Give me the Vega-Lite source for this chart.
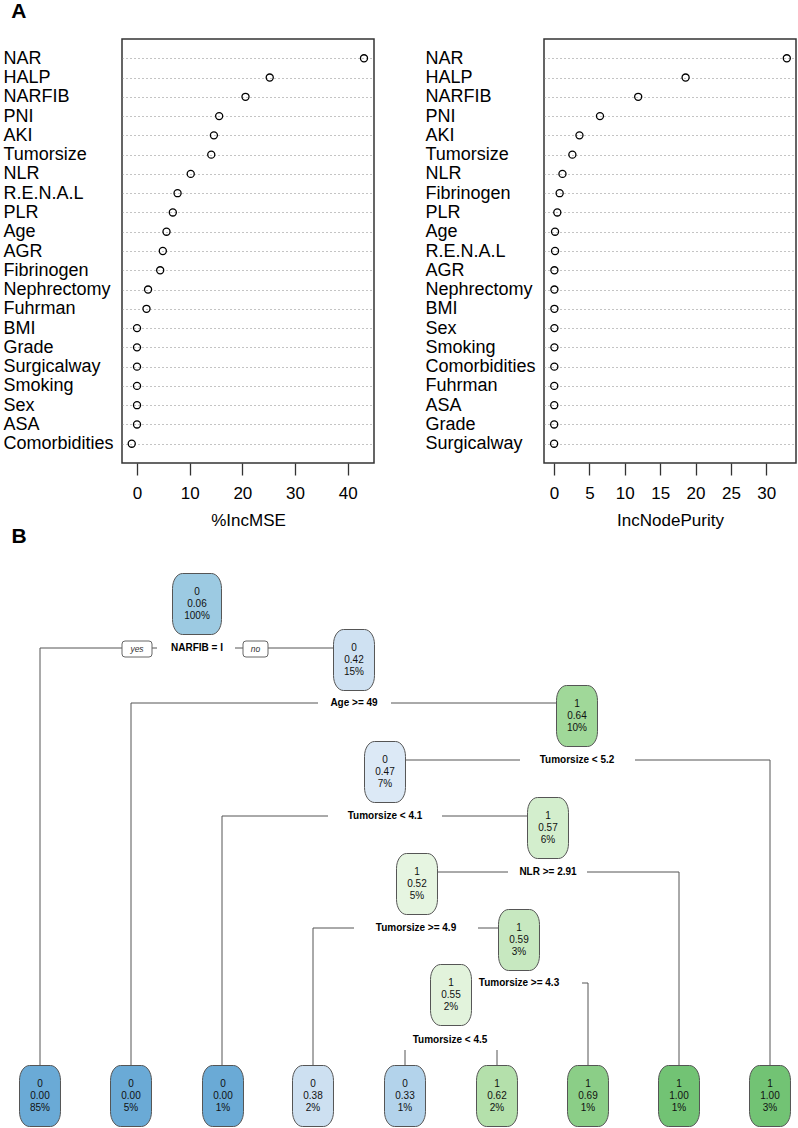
{
  "$schema": "https://vega.github.io/schema/vega-lite/v6.json",
  "padding": {"left": 2, "top": 1, "right": 0, "bottom": 0},
  "background": "white",
  "config": {"font": "Liberation Sans", "view": {"stroke": null}},
  "spacing": -3,
  "datasets": {
    "mse": [
      {"var": "NAR", "value": 43.1}, {"var": "HALP", "value": 25.2}, {"var": "NARFIB", "value": 20.6},
      {"var": "PNI", "value": 15.6}, {"var": "AKI", "value": 14.6}, {"var": "Tumorsize", "value": 14.1},
      {"var": "NLR", "value": 10.2}, {"var": "R.E.N.A.L", "value": 7.7}, {"var": "PLR", "value": 6.8},
      {"var": "Age", "value": 5.6}, {"var": "AGR", "value": 4.9}, {"var": "Fibrinogen", "value": 4.4},
      {"var": "Nephrectomy", "value": 2.1}, {"var": "Fuhrman", "value": 1.8}, {"var": "BMI", "value": 0.0},
      {"var": "Grade", "value": 0.0}, {"var": "Surgicalway", "value": 0.0}, {"var": "Smoking", "value": 0.0},
      {"var": "Sex", "value": 0.0}, {"var": "ASA", "value": 0.0}, {"var": "Comorbidities", "value": -1.0}
    ],
    "purity": [
      {"var": "NAR", "value": 32.9}, {"var": "HALP", "value": 18.6}, {"var": "NARFIB", "value": 11.9},
      {"var": "PNI", "value": 6.5}, {"var": "AKI", "value": 3.6}, {"var": "Tumorsize", "value": 2.6},
      {"var": "NLR", "value": 1.2}, {"var": "Fibrinogen", "value": 0.8}, {"var": "PLR", "value": 0.47},
      {"var": "Age", "value": 0.15}, {"var": "R.E.N.A.L", "value": 0.15}, {"var": "AGR", "value": 0.06},
      {"var": "Nephrectomy", "value": 0.06}, {"var": "BMI", "value": 0.06}, {"var": "Sex", "value": 0.06},
      {"var": "Smoking", "value": 0.06}, {"var": "Comorbidities", "value": 0.05}, {"var": "Fuhrman", "value": 0.04},
      {"var": "ASA", "value": 0.04}, {"var": "Grade", "value": 0.03}, {"var": "Surgicalway", "value": 0.02}
    ],
    "nodes": [
      {"x": 197, "y": 604, "cls": "0", "prob": 0.06, "pct": "100%"},
      {"x": 354, "y": 660, "cls": "0", "prob": 0.42, "pct": "15%"},
      {"x": 577, "y": 716, "cls": "1", "prob": 0.64, "pct": "10%"},
      {"x": 385, "y": 772, "cls": "0", "prob": 0.47, "pct": "7%"},
      {"x": 548, "y": 828, "cls": "1", "prob": 0.57, "pct": "6%"},
      {"x": 417, "y": 884, "cls": "1", "prob": 0.52, "pct": "5%"},
      {"x": 519, "y": 940, "cls": "1", "prob": 0.59, "pct": "3%"},
      {"x": 451, "y": 995, "cls": "1", "prob": 0.55, "pct": "2%"},
      {"x": 40, "y": 1096, "cls": "0", "prob": 0.0, "pct": "85%"},
      {"x": 131, "y": 1096, "cls": "0", "prob": 0.0, "pct": "5%"},
      {"x": 223, "y": 1096, "cls": "0", "prob": 0.0, "pct": "1%"},
      {"x": 313, "y": 1096, "cls": "0", "prob": 0.38, "pct": "2%"},
      {"x": 405, "y": 1096, "cls": "0", "prob": 0.33, "pct": "1%"},
      {"x": 497, "y": 1096, "cls": "1", "prob": 0.62, "pct": "2%"},
      {"x": 588, "y": 1096, "cls": "1", "prob": 0.69, "pct": "1%"},
      {"x": 679, "y": 1096, "cls": "1", "prob": 1.0, "pct": "1%"},
      {"x": 770, "y": 1096, "cls": "1", "prob": 1.0, "pct": "3%"}
    ],
    "edges": [
      {"x": 40, "y": 648, "x2": 157, "y2": 648}, {"x": 40, "y": 648, "x2": 40, "y2": 1090},
      {"x": 235, "y": 648, "x2": 354, "y2": 648},
      {"x": 131, "y": 703, "x2": 318, "y2": 703}, {"x": 131, "y": 703, "x2": 131, "y2": 1090},
      {"x": 391, "y": 703, "x2": 577, "y2": 703},
      {"x": 385, "y": 760, "x2": 520, "y2": 760}, {"x": 635, "y": 760, "x2": 770, "y2": 760},
      {"x": 770, "y": 760, "x2": 770, "y2": 1090},
      {"x": 222, "y": 816, "x2": 328, "y2": 816}, {"x": 222, "y": 816, "x2": 222, "y2": 1090},
      {"x": 442, "y": 816, "x2": 548, "y2": 816},
      {"x": 417, "y": 872, "x2": 508, "y2": 872}, {"x": 587, "y": 872, "x2": 679, "y2": 872},
      {"x": 679, "y": 872, "x2": 679, "y2": 1090},
      {"x": 313, "y": 928, "x2": 354, "y2": 928}, {"x": 313, "y": 928, "x2": 313, "y2": 1090},
      {"x": 478, "y": 928, "x2": 519, "y2": 928},
      {"x": 582, "y": 983, "x2": 588, "y2": 983}, {"x": 588, "y": 983, "x2": 588, "y2": 1090},
      {"x": 405, "y": 1050, "x2": 405, "y2": 1090}, {"x": 497, "y": 1050, "x2": 497, "y2": 1090}
    ],
    "splits": [
      {"label": "NARFIB = I", "x": 197, "y": 648},
      {"label": "Age >= 49", "x": 354, "y": 703},
      {"label": "Tumorsize < 5.2", "x": 577, "y": 760},
      {"label": "Tumorsize < 4.1", "x": 385, "y": 816},
      {"label": "NLR >= 2.91", "x": 548, "y": 872},
      {"label": "Tumorsize >= 4.9", "x": 416, "y": 928},
      {"label": "Tumorsize >= 4.3", "x": 519, "y": 983},
      {"label": "Tumorsize < 4.5", "x": 450, "y": 1040}
    ],
    "yesno": [
      {"lab": "yes", "x": 137, "y": 649},
      {"lab": "no", "x": 255.5, "y": 649}
    ],
    "panel": [{"lab": "B", "x": 19, "y": 537}]
  },
  "vconcat": [
    {
      "title": {"text": "A", "anchor": "start", "frame": "bounds", "fontSize": 21, "fontWeight": "bold", "font": "Liberation Sans", "color": "#000", "dx": 9, "offset": 16},
      "spacing": 49,
      "hconcat": [
        {
          "width": 252, "height": 424,
          "view": {"stroke": "#333", "strokeWidth": 1.5},
          "data": {"name": "mse"},
          "mark": {"type": "point", "filled": false, "color": "#000", "strokeWidth": 1.3, "size": 50, "opacity": 1},
          "encoding": {
            "y": {"field": "var", "type": "nominal", "sort": null, "scale": {"type": "point", "padding": 1},
              "axis": {"title": null, "labelAlign": "left", "labelPadding": 119, "ticks": false, "tickSize": 0, "domain": false, "grid": true, "gridDash": [1, 3], "gridColor": "#888", "labelFontSize": 18, "labelColor": "#000", "labelBaseline": "middle", "labelLimit": 0, "labelOverlap": false}},
            "x": {"field": "value", "type": "quantitative", "scale": {"domain": [-2.85, 45], "nice": false, "zero": false},
              "axis": {"values": [0, 10, 20, 30, 40], "title": "%IncMSE", "grid": false, "domain": false, "tickSize": 12, "tickColor": "#333", "tickWidth": 1.3, "labelFontSize": 17, "labelColor": "#000", "labelPadding": 10, "titleFontSize": 17, "titleFontWeight": "normal", "titleColor": "#000", "titlePadding": 11}}
          }
        },
        {
          "width": 252, "height": 424,
          "view": {"stroke": "#333", "strokeWidth": 1.5},
          "data": {"name": "purity"},
          "mark": {"type": "point", "filled": false, "color": "#000", "strokeWidth": 1.3, "size": 50, "opacity": 1},
          "encoding": {
            "y": {"field": "var", "type": "nominal", "sort": null, "scale": {"type": "point", "padding": 1},
              "axis": {"title": null, "labelAlign": "left", "labelPadding": 119, "ticks": false, "tickSize": 0, "domain": false, "grid": true, "gridDash": [1, 3], "gridColor": "#888", "labelFontSize": 18, "labelColor": "#000", "labelBaseline": "middle", "labelLimit": 0, "labelOverlap": false}},
            "x": {"field": "value", "type": "quantitative", "scale": {"domain": [-1.41, 34.2], "nice": false, "zero": false},
              "axis": {"values": [0, 5, 10, 15, 20, 25, 30], "title": "IncNodePurity", "grid": false, "domain": false, "tickSize": 12, "tickColor": "#333", "tickWidth": 1.3, "labelFontSize": 17, "labelColor": "#000", "labelPadding": 10, "titleFontSize": 17, "titleFontWeight": "normal", "titleColor": "#000", "titlePadding": 11}}
          }
        }
      ]
    },
    {
      "width": 676, "height": 591,
      "view": {"stroke": null},
      "layer": [
        {
          "data": {"name": "edges"},
          "mark": {"type": "rule", "color": "#555", "strokeWidth": 1},
          "encoding": {
            "x": {"field": "x", "type": "quantitative", "scale": {"domain": [122, 798], "nice": false, "zero": false}, "axis": null},
            "y": {"field": "y", "type": "quantitative", "scale": {"domain": [537, 1128], "nice": false, "zero": false, "reverse": true}, "axis": null},
            "x2": {"field": "x2"},
            "y2": {"field": "y2"}
          }
        },
        {
          "data": {"name": "yesno"},
          "mark": {"type": "point", "filled": true, "fill": "white", "stroke": "#666", "strokeWidth": 1, "size": 256, "opacity": 1},
          "encoding": {
            "x": {"field": "x", "type": "quantitative", "scale": {"domain": [122, 798], "nice": false, "zero": false}, "axis": null},
            "y": {"field": "y", "type": "quantitative", "scale": {"domain": [537, 1128], "nice": false, "zero": false, "reverse": true}, "axis": null},
            "shape": {"field": "lab", "type": "nominal", "legend": null,
              "scale": {"domain": ["yes", "no"], "range": [
                "M -1.5,-1 L 1.5,-1 Q 1.875,-1 1.875,-0.625 L 1.875,0.625 Q 1.875,1 1.5,1 L -1.5,1 Q -1.875,1 -1.875,0.625 L -1.875,-0.625 Q -1.875,-1 -1.5,-1 Z",
                "M -1.19,-1 L 1.19,-1 Q 1.5625,-1 1.5625,-0.625 L 1.5625,0.625 Q 1.5625,1 1.19,1 L -1.19,1 Q -1.5625,1 -1.5625,0.625 L -1.5625,-0.625 Q -1.5625,-1 -1.19,-1 Z"
              ]}}
          }
        },
        {
          "data": {"name": "yesno"},
          "mark": {"type": "text", "fontSize": 8.5, "fontStyle": "italic", "color": "#333", "baseline": "middle"},
          "encoding": {
            "x": {"field": "x", "type": "quantitative", "scale": {"domain": [122, 798], "nice": false, "zero": false}, "axis": null},
            "y": {"field": "y", "type": "quantitative", "scale": {"domain": [537, 1128], "nice": false, "zero": false, "reverse": true}, "axis": null},
            "text": {"field": "lab"}
          }
        },
        {
          "data": {"name": "nodes"},
          "transform": [{"filter": "datum.pct !== '100%'"}],
          "mark": {"type": "point", "filled": true, "stroke": "#555", "strokeWidth": 1, "size": 3721, "opacity": 1,
            "shape": "M -0.342,-1 L 0.342,-1 C 0.524,-1 0.672,-0.781 0.672,-0.51 L 0.672,0.51 C 0.672,0.781 0.524,1 0.342,1 L -0.342,1 C -0.524,1 -0.672,0.781 -0.672,0.51 L -0.672,-0.51 C -0.672,-0.781 -0.524,-1 -0.342,-1 Z"},
          "encoding": {
            "x": {"field": "x", "type": "quantitative", "scale": {"domain": [122, 798], "nice": false, "zero": false}, "axis": null},
            "y": {"field": "y", "type": "quantitative", "scale": {"domain": [537, 1128], "nice": false, "zero": false, "reverse": true}, "axis": null},
            "fill": {"field": "prob", "type": "quantitative", "legend": null,
              "scale": {"domain": [0, 0.06, 0.33, 0.38, 0.42, 0.47, 0.52, 0.55, 0.57, 0.59, 0.62, 0.64, 0.69, 1],
                "range": ["#6aaad6", "#9ccae2", "#b3d3eb", "#cde0f1", "#cfe1f2", "#dce9f6", "#e6f5e1", "#e2f3dc", "#d3eecd", "#c7e8c0", "#b4e0ab", "#a0d899", "#8bce87", "#72c374"]}}
          }
        },
        {
          "data": {"name": "nodes"},
          "transform": [{"filter": "datum.pct === '100%'"}],
          "mark": {"type": "point", "filled": true, "stroke": "#555", "strokeWidth": 1, "size": 3721, "opacity": 1,
            "shape": "M -0.473,-1 L 0.473,-1 C 0.655,-1 0.803,-0.781 0.803,-0.51 L 0.803,0.51 C 0.803,0.781 0.655,1 0.473,1 L -0.473,1 C -0.655,1 -0.803,0.781 -0.803,0.51 L -0.803,-0.51 C -0.803,-0.781 -0.655,-1 -0.473,-1 Z"},
          "encoding": {
            "x": {"field": "x", "type": "quantitative", "scale": {"domain": [122, 798], "nice": false, "zero": false}, "axis": null},
            "y": {"field": "y", "type": "quantitative", "scale": {"domain": [537, 1128], "nice": false, "zero": false, "reverse": true}, "axis": null},
            "fill": {"field": "prob", "type": "quantitative", "legend": null,
              "scale": {"domain": [0, 0.06, 0.33, 0.38, 0.42, 0.47, 0.52, 0.55, 0.57, 0.59, 0.62, 0.64, 0.69, 1],
                "range": ["#6aaad6", "#9ccae2", "#b3d3eb", "#cde0f1", "#cfe1f2", "#dce9f6", "#e6f5e1", "#e2f3dc", "#d3eecd", "#c7e8c0", "#b4e0ab", "#a0d899", "#8bce87", "#72c374"]}}
          }
        },
        {
          "data": {"name": "nodes"},
          "mark": {"type": "text", "fontSize": 10, "color": "#111", "baseline": "middle", "dy": -12},
          "encoding": {
            "x": {"field": "x", "type": "quantitative", "scale": {"domain": [122, 798], "nice": false, "zero": false}, "axis": null},
            "y": {"field": "y", "type": "quantitative", "scale": {"domain": [537, 1128], "nice": false, "zero": false, "reverse": true}, "axis": null},
            "text": {"field": "cls"}
          }
        },
        {
          "data": {"name": "nodes"},
          "mark": {"type": "text", "fontSize": 10, "color": "#111", "baseline": "middle"},
          "encoding": {
            "x": {"field": "x", "type": "quantitative", "scale": {"domain": [122, 798], "nice": false, "zero": false}, "axis": null},
            "y": {"field": "y", "type": "quantitative", "scale": {"domain": [537, 1128], "nice": false, "zero": false, "reverse": true}, "axis": null},
            "text": {"field": "prob", "type": "quantitative", "format": ".2f"}
          }
        },
        {
          "data": {"name": "nodes"},
          "mark": {"type": "text", "fontSize": 10, "color": "#111", "baseline": "middle", "dy": 12},
          "encoding": {
            "x": {"field": "x", "type": "quantitative", "scale": {"domain": [122, 798], "nice": false, "zero": false}, "axis": null},
            "y": {"field": "y", "type": "quantitative", "scale": {"domain": [537, 1128], "nice": false, "zero": false, "reverse": true}, "axis": null},
            "text": {"field": "pct"}
          }
        },
        {
          "data": {"name": "splits"},
          "mark": {"type": "text", "fontSize": 10, "fontWeight": "bold", "color": "#000", "baseline": "middle"},
          "encoding": {
            "x": {"field": "x", "type": "quantitative", "scale": {"domain": [122, 798], "nice": false, "zero": false}, "axis": null},
            "y": {"field": "y", "type": "quantitative", "scale": {"domain": [537, 1128], "nice": false, "zero": false, "reverse": true}, "axis": null},
            "text": {"field": "label"}
          }
        },
        {
          "data": {"name": "panel"},
          "mark": {"type": "text", "fontSize": 21, "fontWeight": "bold", "color": "#000", "baseline": "middle"},
          "encoding": {
            "x": {"field": "x", "type": "quantitative", "scale": {"domain": [122, 798], "nice": false, "zero": false}, "axis": null},
            "y": {"field": "y", "type": "quantitative", "scale": {"domain": [537, 1128], "nice": false, "zero": false, "reverse": true}, "axis": null},
            "text": {"field": "lab"}
          }
        }
      ]
    }
  ]
}
